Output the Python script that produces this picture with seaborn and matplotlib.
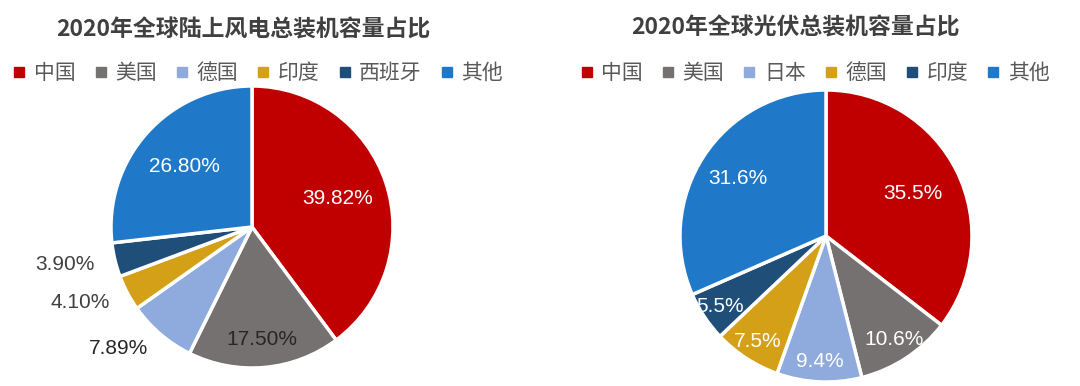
import numpy as np
import seaborn as sns
import matplotlib.pyplot as plt
from matplotlib.lines import Line2D

# data
wind_labels = ["中国", "美国", "德国", "印度", "西班牙", "其他"]
wind_values = [39.82, 17.50, 7.89, 4.10, 3.90, 26.80]
wind_text = ["39.82%", "17.50%", "7.89%", "4.10%", "3.90%", "26.80%"]

pv_labels = ["中国", "美国", "日本", "德国", "印度", "其他"]
pv_values = [35.5, 10.6, 9.4, 7.5, 5.5, 31.6]
pv_text = ["35.5%", "10.6%", "9.4%", "7.5%", "5.5%", "31.6%"]

wind_colors = ["#C00000", "#767171", "#8FAADC", "#D4A017", "#1F4E79", "#1F78C8"]
pv_colors = ["#C00000", "#767171", "#8FAADC", "#D4A017", "#1F4E79", "#1F78C8"]

sns.set_theme(style="white")
plt.rcParams['font.family'] = ['Noto Sans CJK SC', 'DejaVu Sans']

fig = plt.figure(figsize=(10.8, 3.86), dpi=100)


def draw_pie(ax, values, colors, texts, styles):
    wedges, _ = ax.pie(values, colors=colors, startangle=90, counterclock=False,
                       radius=1, wedgeprops=dict(edgecolor="white", linewidth=2.5))
    for w, t, (dist, col, ha) in zip(wedges, texts, styles):
        ang = np.deg2rad((w.theta1 + w.theta2) / 2)
        ax.text(dist * np.cos(ang), dist * np.sin(ang), t, ha=ha, va="center",
                fontsize=15, color=col, family=['Arial', 'Liberation Sans', 'DejaVu Sans'])
    ax.set_xlim(-1, 1)
    ax.set_ylim(-1, 1)
    ax.set_aspect("equal")
    ax.axis("off")


# left: onshore wind
ax1 = fig.add_axes([111 / 1080, 18 / 386, 282 / 1080, 282 / 386])
wind_styles = [(0.64, "white", "center"), (0.8, "#262626", "center"),
               (1.13, "#262626", "right"), (1.14, "#404040", "right"),
               (1.15, "#404040", "right"), (0.64, "white", "center")]
draw_pie(ax1, wind_values, wind_colors, wind_text, wind_styles)

# right: PV
ax2 = fig.add_axes([680 / 1080, 4 / 386, 292 / 1080, 292 / 386])
pv_styles = [(0.66, "white", "center"), (0.85, "white", "center"),
             (0.86, "white", "center"), (0.86, "white", "center"),
             (0.87, "white", "center"), (0.72, "white", "center")]
draw_pie(ax2, pv_values, pv_colors, pv_text, pv_styles)

# titles
fig.text(243 / 1080, 1 - 30 / 386, "2020年全球陆上风电总装机容量占比", ha="center", va="center",
         fontsize=16.5, fontweight="bold", color="#404040")
fig.text(795 / 1080, 1 - 28 / 386, "2020年全球光伏总装机容量占比", ha="center", va="center",
         fontsize=16.5, fontweight="bold", color="#404040")


def make_legend(labels, colors, x):
    handles = [Line2D([], [], marker="s", linestyle="", markersize=7,
                      markerfacecolor=c, markeredgecolor=c) for c in colors]
    fig.legend(handles, labels, loc="center", bbox_to_anchor=(x, 1 - 73 / 386),
               ncol=len(labels), frameon=False, fontsize=15, handlelength=0.6,
               handletextpad=0.4, columnspacing=0.9, labelcolor="#595959")


make_legend(wind_labels, wind_colors, 258 / 1080)
make_legend(pv_labels, pv_colors, 815 / 1080)

plt.savefig("out.png", dpi=100)
